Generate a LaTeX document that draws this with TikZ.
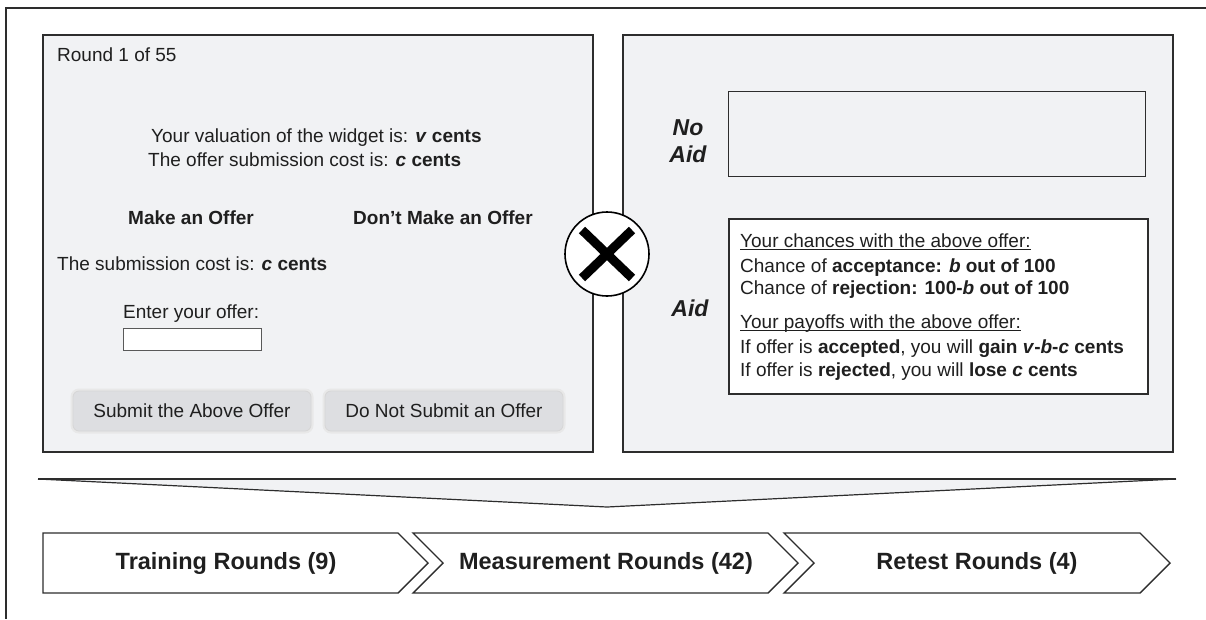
\documentclass[tikz,border=0pt]{standalone}
\usepackage{fontspec}
\setmainfont{Liberation Sans}
\usepackage{tikz}

\definecolor{panelgray}{RGB}{241,242,244}
\definecolor{linedark}{RGB}{45,45,45}
\definecolor{btngray}{RGB}{221,222,225}

\newcommand{\bodyfont}{\fontsize{19}{23}\selectfont}
\newcommand{\labelfont}{\fontsize{23}{27}\selectfont\bfseries\itshape}
\newcommand{\bi}[1]{\textbf{\textit{#1}}}
\newcommand{\undl}[1]{\leavevmode\setbox0\hbox{#1}\rlap{\rule[-2.6pt]{\wd0}{0.9pt}}\box0}

\begin{document}
\begin{tikzpicture}[x=1pt, y=-1pt,
	every node/.style={inner sep=0pt, text=black!88},
	body/.style={font=\bodyfont, anchor=base west},
	panel/.style={draw=linedark, line width=1.4pt, fill=panelgray},
	btn/.style={font=\bodyfont, rounded corners=6pt, fill=btngray, draw=black!16, line width=0.8pt,
		minimum width=238, minimum height=40, preaction={draw=black!9, line width=5pt}},
	chev/.style={draw=linedark, line width=1.4pt, fill=white},
	chevtext/.style={font=\fontsize{23.5}{28}\selectfont\bfseries}]
	\useasboundingbox (0,0) rectangle (1206,619);
	\draw[linedark, line width=1.5pt] (1206,8) -- (6,8) -- (6,619);

	% screen of a round
	\draw[panel] (43,35) rectangle (593,452);
	\node[body] (round) at (57,61) {Round 1 of 55};
	\node[body] (valuation) at (151,142) {Your valuation of the widget is: \bi{v}\textbf{ cents}};
	\node[body] (cost) at (148,166) {The offer submission cost is: \bi{c}\textbf{ cents}};
	\node[body, font=\bodyfont\bfseries] (make) at (128,224) {Make an Offer};
	\node[body, font=\bodyfont\bfseries] (dontmake) at (353,224) {Don’t Make an Offer};
	\node[body] (subcost) at (57,270) {The submission cost is: \bi{c}\textbf{ cents}};
	\node[body] (enter) at (123,318) {Enter your offer:};
	\node[draw=black!65, fill=white, line width=0.9pt, minimum width=138, minimum height=22,
		anchor=north west] (offerbox) at (123,328) {};
	\node[btn] (submit) at (192,411) {Submit the Above Offer};
	\node[btn] (nosubmit) at (444,411) {Do Not Submit an Offer};

	% aid screen
	\draw[panel] (623,35) rectangle (1173,452);
	\node[font=\labelfont, align=center] (noaid) at (688,141) {No\\Aid};
	\node[draw=linedark, line width=1.2pt, fill=panelgray, minimum width=417, minimum height=85,
		anchor=north west] (noaidbox) at (728,91) {};
	\node[font=\labelfont] (aid) at (690,308) {Aid};
	\node[draw=linedark, line width=1.6pt, fill=white, minimum width=419, minimum height=175,
		anchor=north west] (aidbox) at (728,218) {};
	\node[body] (chances) at (740,247) {\undl{Your chances with the above offer:}};
	\node[body] (accept) at (740,272) {Chance of \textbf{acceptance: \textit{b} out of 100}};
	\node[body] (reject) at (740,294) {Chance of \textbf{rejection: 100-\textit{b} out of 100}};
	\node[body] (payoffs) at (740,328) {\undl{Your payoffs with the above offer:}};
	\node[body] (gain) at (740,353) {If offer is \textbf{accepted}, you will \textbf{gain \textit{v}-\textit{b}-\textit{c} cents}};
	\node[body] (lose) at (740,376) {If offer is \textbf{rejected}, you will \textbf{lose \textit{c} cents}};

	% treatment cross
	\node[circle, draw=black, line width=1.6pt, fill=white, minimum size=84] (cross) at (607,254) {};
	\draw[line width=9pt] ([shift={(-25,-24)}]cross.center) -- ([shift={(25,24)}]cross.center);
	\draw[line width=9pt] ([shift={(-25,24)}]cross.center) -- ([shift={(25,-24)}]cross.center);

	% funnel
	\coordinate (fl) at (38,479);
	\coordinate (fr) at (1176,479);
	\coordinate (fa) at (607,507);
	\fill[panelgray] (fl) -- (fr) -- (fa) -- cycle;
	\draw[linedark, line width=1.2pt] (fl) -- (fa) -- (fr);
	\draw[linedark, line width=2.2pt] (fl) -- (fr);

	% phases
	\draw[chev] (43,533) -- (398,533) -- (428,563) -- (398,593) -- (43,593) -- cycle;
	\draw[chev] (413,533) -- (768,533) -- (798,563) -- (768,593) -- (413,593) -- (443,563) -- cycle;
	\draw[chev] (784,533) -- (1140,533) -- (1170,563) -- (1140,593) -- (784,593) -- (814,563) -- cycle;
	\node[chevtext] (training) at (226,563) {Training Rounds (9)};
	\node[chevtext] (measure) at (606,563) {Measurement Rounds (42)};
	\node[chevtext] (retest) at (977,563) {Retest Rounds (4)};
\end{tikzpicture}
\end{document}
